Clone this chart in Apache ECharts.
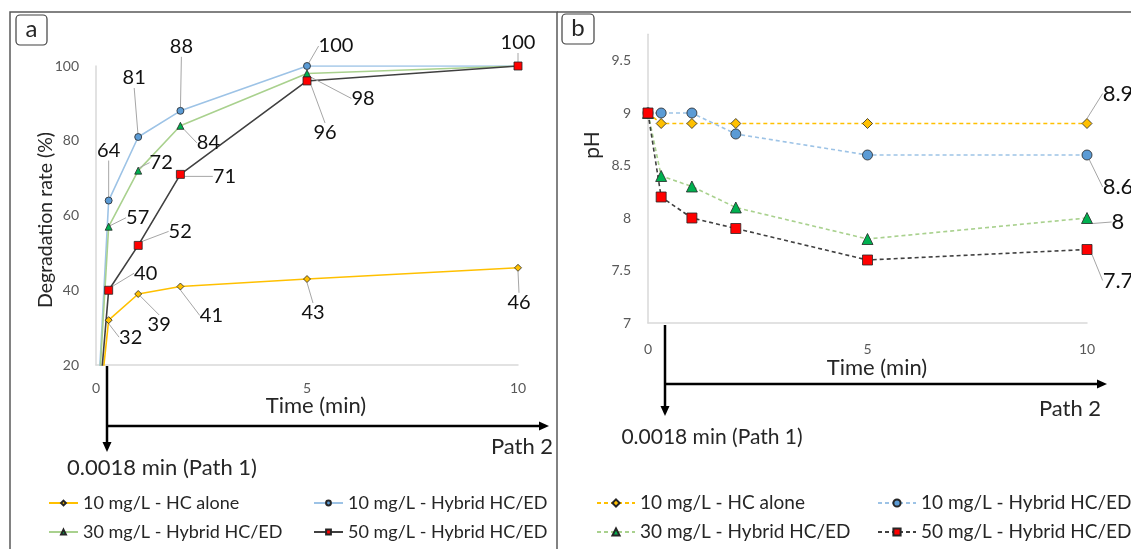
<!DOCTYPE html>
<html>
<head>
<meta charset="utf-8">
<script src="https://cdn.jsdelivr.net/npm/echarts@6/dist/echarts.min.js"></script>
<style>
  html, body { margin: 0; padding: 0; background: #fff; }
  #chart { width: 1131px; height: 549px; }
</style>
</head>
<body>
<div id="chart"></div>
<script>
// time points (min)
var timeA = [0, 0.3, 1, 2, 5, 10];
var timeB = [0, 0.3, 1, 2, 5, 10];

// a - degradation rate (%)
var hcAloneA = [0, 32, 39, 41, 43, 46];
var hyb10A = [0, 64, 81, 88, 100, 100];
var hyb30A = [0, 57, 72, 84, 98, 100];
var hyb50A = [0, 40, 52, 71, 96, 100];

// b - pH
var hcAloneB = [9, 8.9, 8.9, 8.9, 8.9, 8.9];
var hyb10B = [9, 9, 9, 8.8, 8.6, 8.6];
var hyb30B = [9, 8.4, 8.3, 8.1, 7.8, 8];
var hyb50B = [9, 8.2, 8.0, 7.9, 7.6, 7.7];

var names = ['10 mg/L - HC alone', '10 mg/L - Hybrid HC/ED', '30 mg/L - Hybrid HC/ED', '50 mg/L - Hybrid HC/ED'];
var SUFFIX_B = ' (pH)';

// label offsets (px) from each point, null = no label
var offA = [
  [null, [22, 17], [21, 31], [31, 29], [6, 34], [1, 35]],
  [null, [0, -50], [-4, -59], [1, -64], [29, -20], [0, -23]],
  [null, [29, -9], [23, -8], [28, 17], [56, 25], null],
  [null, [37, -17], [42, -14], [44, 2], [18, 52], null]
];
var offB = [
  [null, null, null, null, null, [31, -30]],
  [null, null, null, null, null, [31, 32]],
  [null, null, null, null, null, [31, 4]],
  [null, null, null, null, null, [31, 31]]
];

var FONT = 'Lato';
var styles = [
  { symbol: 'diamond', fill: '#ffc000', line: '#ffc000' },
  { symbol: 'circle', fill: '#5b9bd5', line: '#9dc3e6' },
  { symbol: 'triangle', fill: '#00b050', line: '#a9d18e' },
  { symbol: 'rect', fill: '#ff0000', line: '#404040' }
];

function makeSeries(name, xs, ys, offs, idx, st, panelB) {
  return {
    type: 'line',
    name: name,
    xAxisIndex: idx,
    yAxisIndex: idx,
    data: xs.map(function (x, i) {
      return { value: [x, ys[i]], label: { show: !!offs[i] }, labelLine: { show: !!offs[i] } };
    }),
    symbol: st.symbol,
    symbolSize: panelB ? (st.symbol == 'triangle' ? 11 : 10) : (st.symbol == 'rect' ? 8 : 7),
    showAllSymbol: true,
    clip: true,
    lineStyle: { color: st.line, width: 1.6, type: panelB ? [4, 3] : 'solid' },
    itemStyle: { color: st.fill, borderColor: '#262626', borderWidth: 0.8 },
    label: {
      show: true, position: 'inside', color: '#111', fontFamily: FONT,
      fontSize: panelB ? 22 : 20,
      formatter: function (p) { return String(p.value[1]); }
    },
    labelLine: { show: true, lineStyle: { color: '#a6a6a6', width: 1 } },
    labelLayout: function (p) {
      var o = offs[p.dataIndex];
      return o ? { dx: o[0], dy: o[1] } : {};
    },
    emphasis: { disabled: true }
  };
}

var series = [
  makeSeries(names[0], timeA, hcAloneA, offA[0], 0, styles[0], false),
  makeSeries(names[1], timeA, hyb10A, offA[1], 0, styles[1], false),
  makeSeries(names[2], timeA, hyb30A, offA[2], 0, styles[2], false),
  makeSeries(names[3], timeA, hyb50A, offA[3], 0, styles[3], false),
  makeSeries(names[0] + SUFFIX_B, timeB, hcAloneB, offB[0], 1, styles[0], true),
  makeSeries(names[1] + SUFFIX_B, timeB, hyb10B, offB[1], 1, styles[1], true),
  makeSeries(names[2] + SUFFIX_B, timeB, hyb30B, offB[2], 1, styles[2], true),
  makeSeries(names[3] + SUFFIX_B, timeB, hyb50B, offB[3], 1, styles[3], true)
];

var axisLineStyle = { show: true, onZero: false, lineStyle: { color: '#d9d9d9', width: 1.5 } };
var tickLabel = { color: '#595959', fontSize: 14, fontFamily: FONT };

function legendCol(left, items, iw, ih, panelB) {
  return {
    orient: 'vertical', left: left, top: 493, padding: 0,
    itemWidth: iw, itemHeight: ih, itemGap: 9,
    data: items,
    textStyle: { color: '#262626', fontSize: panelB ? 19 : 18, lineHeight: 20, fontFamily: FONT },
    formatter: function (n) { return panelB ? n.replace(SUFFIX_B, '') : n; },
    selectedMode: false
  };
}

function arrow(x1, y1, x2, y2) {
  var dx = x2 - x1, dy = y2 - y1, len = Math.sqrt(dx * dx + dy * dy);
  var ux = dx / len, uy = dy / len, hl = 10, hw = 4.5;
  var bx = x2 - ux * hl, by = y2 - uy * hl;
  return [
    { type: 'line', z: 100, shape: { x1: x1, y1: y1, x2: bx, y2: by }, style: { stroke: '#000', lineWidth: 2.5 } },
    { type: 'polygon', z: 100, shape: { points: [[x2, y2], [bx - uy * hw, by + ux * hw], [bx + uy * hw, by - ux * hw]] }, style: { fill: '#000' } }
  ];
}

function txt(x, y, s, size, rot) {
  return {
    type: 'text', z: 100, x: x, y: y, rotation: rot || 0,
    style: { text: s, fill: '#262626', font: size + 'px ' + FONT, align: 'center', verticalAlign: 'middle' }
  };
}

var graphics = [
  { type: 'rect', z: 90, shape: { x: 10, y: 12, width: 547, height: 560 }, style: { fill: 'none', stroke: '#595959', lineWidth: 1.5 } },
  { type: 'line', z: 90, shape: { x1: 557, y1: 12, x2: 1131, y2: 12 }, style: { stroke: '#595959', lineWidth: 1.5 } },
  { type: 'rect', z: 90, shape: { x: 16, y: 15, width: 31, height: 30, r: 4 }, style: { fill: '#fff', stroke: '#404040', lineWidth: 1.2 } },
  { type: 'rect', z: 90, shape: { x: 562, y: 14, width: 32, height: 30, r: 4 }, style: { fill: '#fff', stroke: '#404040', lineWidth: 1.2 } },
  txt(31.5, 29, 'a', 24),
  txt(578, 28, 'b', 24),
  txt(46, 220, 'Degradation rate (%)', 19.5, Math.PI / 2),
  txt(592, 145, 'pH', 21, Math.PI / 2),
  txt(316, 406, 'Time (min)', 22),
  txt(877, 368, 'Time (min)', 22),
  txt(522, 447, 'Path 2', 22),
  txt(1070, 409, 'Path 2', 22),
  txt(162, 468, '0.0018 min (Path 1)', 22),
  txt(712, 437, '0.0018 min (Path 1)', 21)
].concat(
  arrow(107, 366, 107, 452),
  arrow(106, 426, 549, 426),
  arrow(665, 325, 665, 416),
  arrow(664, 384, 1107, 384)
);

var chart = echarts.init(document.getElementById('chart'), null, { renderer: 'canvas' });
chart.setOption({
  animation: false,
  backgroundColor: '#fff',
  grid: [
    { left: 96, top: 66, width: 422, height: 299 },
    { left: 648, top: 34.25, width: 439, height: 288.75 }
  ],
  xAxis: [
    { gridIndex: 0, type: 'value', min: 0, max: 10, interval: 5, axisLine: axisLineStyle, axisTick: { show: false }, splitLine: { show: false }, axisLabel: Object.assign({ margin: 16 }, tickLabel) },
    { gridIndex: 1, type: 'value', min: 0, max: 10, interval: 5, axisLine: axisLineStyle, axisTick: { show: false }, splitLine: { show: false }, axisLabel: Object.assign({ margin: 19 }, tickLabel) }
  ],
  yAxis: [
    { gridIndex: 0, type: 'value', min: 20, max: 100, interval: 20, axisLine: axisLineStyle, axisTick: { show: false }, splitLine: { show: false }, axisLabel: Object.assign({ margin: 17 }, tickLabel) },
    { gridIndex: 1, type: 'value', min: 7, max: 9.75, interval: 0.5, axisLine: axisLineStyle, axisTick: { show: false }, splitLine: { show: false }, axisLabel: Object.assign({ margin: 17, showMaxLabel: false }, tickLabel) }
  ],
  legend: [
    legendCol(48, [names[0], names[2]], 29, 6, false),
    legendCol(313, [names[1], names[3]], 29, 6, false),
    legendCol(596, [names[0] + SUFFIX_B, names[2] + SUFFIX_B], 38, 9, true),
    legendCol(877, [names[1] + SUFFIX_B, names[3] + SUFFIX_B], 38, 9, true)
  ],
  series: series,
  graphic: graphics
});
</script>
</body>
</html>
